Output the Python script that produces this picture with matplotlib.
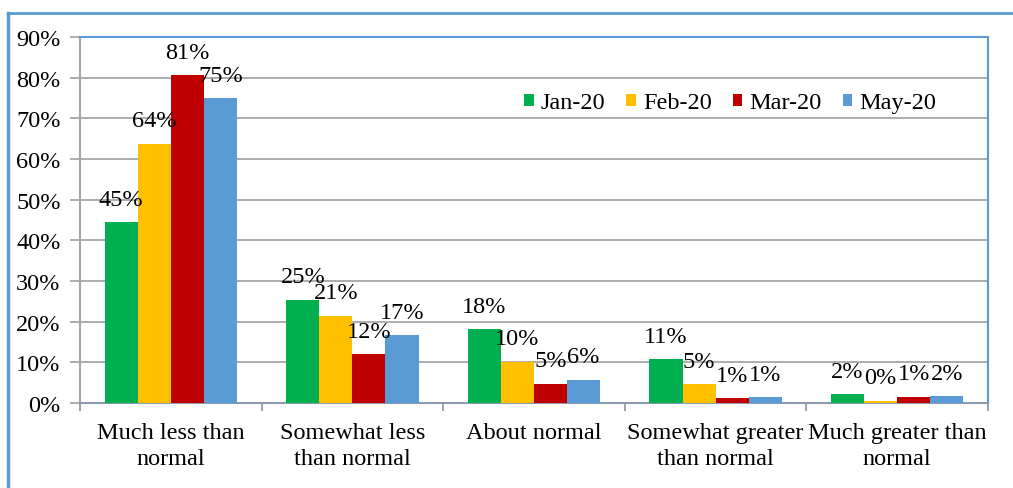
import matplotlib
matplotlib.use("Agg")
import matplotlib.pyplot as plt
import numpy as np
from matplotlib.lines import Line2D

categories = ["Much less than\nnormal", "Somewhat less\nthan normal", "About normal",
              "Somewhat greater\nthan normal", "Much greater than\nnormal"]
series_names = ["Jan-20", "Feb-20", "Mar-20", "May-20"]
jan = [44.5, 25.4, 18.1, 10.8, 2.2]
feb = [63.7, 21.5, 10.2, 4.6, 0.5]
mar = [80.6, 12.0, 4.7, 1.2, 1.5]
may = [74.9, 16.6, 5.7, 1.4, 1.7]
labels_jan = ["45%", "25%", "18%", "11%", "2%"]
labels_feb = ["64%", "21%", "10%", "5%", "0%"]
labels_mar = ["81%", "12%", "5%", "1%", "1%"]
labels_may = ["75%", "17%", "6%", "1%", "2%"]
yticks = [0, 10, 20, 30, 40, 50, 60, 70, 80, 90]

colors = ["#00B050", "#FFC000", "#C00000", "#5B9BD5"]

plt.rcParams['font.family'] = ['Liberation Serif', 'DejaVu Serif']
FS = 17.5

fig = plt.figure(figsize=(10.13, 4.89), dpi=100)
ax = fig.add_axes([80/1013, 1-404/489, (988-80)/1013, (404-38)/489])

data = [jan, feb, mar, may]
labs = [labels_jan, labels_feb, labels_mar, labels_may]
x = np.arange(len(categories))
w = 0.182
for i, (vals, lab) in enumerate(zip(data, labs)):
    pos = x + (i - 1.5) * w
    ax.bar(pos, vals, width=w, color=colors[i], label=series_names[i], zorder=3)
    for p, v, t in zip(pos, vals, lab):
        ax.annotate(t, (p, v), xytext=(0, 9), textcoords='offset points',
                    ha='center', va='bottom', fontsize=FS, zorder=4)

ax.set_xlim(-0.5, len(categories) - 0.5)
ax.set_ylim(0, 90)
ax.set_yticks(yticks)
ax.set_yticklabels([f"{t}%" for t in yticks], fontsize=FS)
ax.yaxis.grid(True, color="#A6A6A6", linewidth=1.3, zorder=0)
ax.set_axisbelow(True)

ax.set_xticks(x)
ax.set_xticklabels(categories, fontsize=FS, linespacing=1.3)
ax.set_xticks(np.arange(-0.5, len(categories)), minor=True)
ax.tick_params(axis='x', which='major', length=0, pad=14)
ax.tick_params(axis='x', which='minor', length=6, color="#8C9BAE", width=1.3, direction='out')
ax.tick_params(axis='y', length=7, color="#A6A6A6", width=1.3, pad=7)

ax.spines['left'].set_color("#A6A6A6")
ax.spines['left'].set_linewidth(1.5)
ax.spines['bottom'].set_color("#8C9BAE")
ax.spines['bottom'].set_linewidth(1.5)
ax.spines['top'].set_color("#5B9BD5")
ax.spines['top'].set_linewidth(1.5)
ax.spines['right'].set_color("#5B9BD5")
ax.spines['right'].set_linewidth(1.5)

ax.legend(loc='center', bbox_to_anchor=(0.716, 0.82), ncol=4, frameon=False,
          fontsize=FS, handlelength=0.4, handleheight=0.4, handletextpad=0.3,
          columnspacing=0.85)

# outer figure frame (top and left)
fig.add_artist(Line2D([8/1013, 1.0], [1-14/489, 1-14/489], transform=fig.transFigure,
                      color="#5B9BD5", linewidth=2))
fig.add_artist(Line2D([8/1013, 8/1013], [0, 1-14/489], transform=fig.transFigure,
                      color="#5B9BD5", linewidth=2.5))

fig.savefig("out.png", dpi=100)
